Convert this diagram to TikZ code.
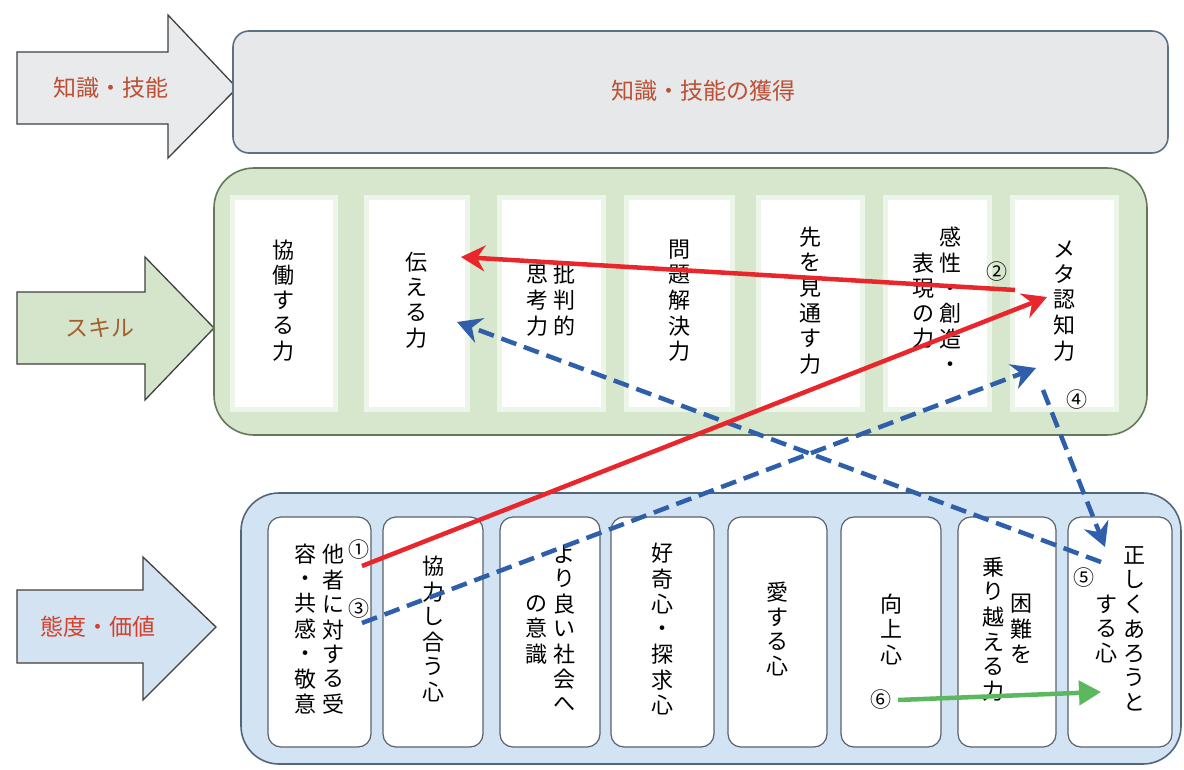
\documentclass[tikz,border=0pt]{standalone}
\usepackage{fontspec}
\newfontfamily\jp{Noto Sans CJK JP}
\usetikzlibrary{arrows.meta}
\definecolor{graybox}{HTML}{E7E8EA}
\definecolor{grayline}{HTML}{5C7088}
\definecolor{greenbox}{HTML}{D6E7CD}
\definecolor{greenline}{HTML}{66785A}
\definecolor{greenhalo}{HTML}{EDF5E8}
\definecolor{bluebox}{HTML}{D2E4F3}
\definecolor{blueline}{HTML}{536579}
\definecolor{colline}{HTML}{58626C}
\definecolor{arrowline}{HTML}{404040}
\definecolor{arrgray}{HTML}{E9EAEC}
\definecolor{arrgreen}{HTML}{D5E5CC}
\definecolor{arrblue}{HTML}{D3E3F1}
\definecolor{txtbrown}{HTML}{BC4F34}
\definecolor{txtorange}{HTML}{A4602C}
\definecolor{txtred}{HTML}{D4402C}
\definecolor{redc}{HTML}{E8262B}
\definecolor{bluec}{HTML}{2F5FAA}
\definecolor{greenc}{HTML}{5BB85F}
\newcommand\vcol[1]{\begin{tabular}[c]{@{}c@{}}#1\end{tabular}}
\begin{document}
\begin{tikzpicture}[x=1pt,y=-1pt,
  blockarrow/.style={draw=arrowline, line width=1.3pt, line join=miter},
  bigbox/.style={line width=1.6pt},
  skillcol/.style={fill=white, draw=greenhalo, line width=5pt, minimum width=#1, minimum height=212pt, inner sep=0pt, font=\jp\fontsize{22}{25}\selectfont},
  attcol/.style={fill=white, draw=colline, line width=1.2pt, rounded corners=13pt, minimum width=#1, minimum height=230pt, inner sep=0pt, font=\jp\fontsize{22}{24}\selectfont},
  label/.style={font=\jp\fontsize{23}{23}\selectfont, inner sep=0pt},
  num/.style={font=\jp\fontsize{21}{21}\selectfont, inner sep=0pt},
  redarrow/.style={draw=redc, line width=4.5pt, -{Stealth[length=24pt,width=26pt,inset=8pt]}},
  bluearrow/.style={draw=bluec, line width=4.5pt, dash pattern=on 16pt off 8pt, -{Stealth[length=24pt,width=26pt,inset=8pt]}},
  greenarrow/.style={draw=greenc, line width=4.5pt, -{Triangle[length=22pt,width=24pt]}}
]
\useasboundingbox (0,0) rectangle (1184,769);
\fill[white] (0,0) rectangle (1184,769);

% block arrows
\filldraw[blockarrow, fill=arrgray] (17,52) -- (168,52) -- (168,15) -- (237,88) -- (168,158) -- (168,124) -- (17,124) -- cycle;
\filldraw[blockarrow, fill=arrgreen] (17,292) -- (145,292) -- (145,257) -- (214,328) -- (145,400) -- (145,364) -- (17,364) -- cycle;
\filldraw[blockarrow, fill=arrblue] (17,590) -- (143,590) -- (143,557) -- (216,627) -- (143,700) -- (143,663) -- (17,663) -- cycle;
\node[label, text=txtbrown] (lk) at (111,88) {知識・技能};
\node[label, text=txtorange] (ls) at (100,328) {スキル};
\node[label, text=txtred] (la) at (98,627) {態度・価値};

% knowledge box
\filldraw[bigbox, fill=graybox, draw=grayline, rounded corners=16pt] (233,31) rectangle (1168,153);
\node[label, text=txtbrown] (kt) at (703,91) {知識・技能の獲得};

% skill box
\filldraw[bigbox, fill=greenbox, draw=greenline, rounded corners=40pt] (214,168) rectangle (1147,435);
\node[skillcol=103pt] (s1) at (283.5,303.5) {\vcol{協\\働\\す\\る\\力}};
\node[skillcol=101pt] (s2) at (416.5,303.5) {\vcol{伝\\え\\る\\力}};
\node[skillcol=104pt] (s3) at (551,303.5) {\vcol{思\\考\\力}\hspace{5pt}\vcol{批\\判\\的}};
\node[skillcol=106pt] (s4) at (679,303.5) {\vcol{問\\題\\解\\決\\力}};
\node[skillcol=104pt] (s5) at (810,303.5) {\vcol{先\\を\\見\\通\\す\\力}};
\node[skillcol=104pt] (s6) at (937,303.5) {\vcol{表\\現\\の\\力}\hspace{5pt}\vcol{感\\性\\・\\創\\造\\・}};
\node[skillcol=104pt] (s7) at (1064,303.5) {\vcol{メ\\タ\\認\\知\\力}};

% attitude box
\filldraw[bigbox, fill=bluebox, draw=blueline, rounded corners=38pt] (241,493) rectangle (1181,764);
\node[attcol=103pt] (t1) at (319.5,632) {\vcol{容\\・\\共\\感\\・\\敬\\意}\hspace{6pt}\vcol{他\\者\\に\\対\\す\\る\\受}};
\node[attcol=100pt] (t2) at (433,632) {\vcol{協\\力\\し\\合\\う\\心}};
\node[attcol=100pt] (t3) at (550,632) {\vcol{の\\意\\識}\hspace{6pt}\vcol{よ\\り\\良\\い\\社\\会\\へ}};
\node[attcol=103pt] (t4) at (662.5,632) {\vcol{好\\奇\\心\\・\\探\\求\\心}};
\node[attcol=99pt] (t5) at (777.5,632) {\vcol{愛\\す\\る\\心}};
\node[attcol=100pt] (t6) at (891,632) {\raisebox{-6pt}{\vcol{向\\上\\心}}};
\node[attcol=98pt] (t7) at (1007,632) {\vcol{乗\\り\\越\\え\\る\\力}\hspace{6pt}\vcol{困\\難\\を}};
\node[attcol=104pt] (t8) at (1120,632) {\vcol{す\\る\\心}\hspace{6pt}\vcol{正\\し\\く\\あ\\ろ\\う\\と}};

% connector end points
\coordinate (a1s) at (362,566); \coordinate (a1e) at (1047,297);
\coordinate (a2s) at (1015,290); \coordinate (a2e) at (461,257);
\coordinate (a3s) at (362,623); \coordinate (a3e) at (1036,368);
\coordinate (a4s) at (1043,390); \coordinate (a4e) at (1105,547);
\coordinate (a5s) at (1101,562); \coordinate (a5e) at (457,322);
\coordinate (a6s) at (898,700); \coordinate (a6e) at (1101,692);

% connectors
\draw[bluearrow] (a5s) -- (a5e);
\draw[bluearrow] (a3s) -- (a3e);
\draw[bluearrow] (a4s) -- (a4e);
\draw[redarrow] (a2s) -- (a2e);
\draw[redarrow] (a1s) -- (a1e);
\draw[greenarrow] (a6s) -- (a6e);

% number labels
\node[num] (n1) at (359,550) {①};
\node[num] (n2) at (997,272) {②};
\node[num] (n3) at (359,609) {③};
\node[num] (n4) at (1077,400) {④};
\node[num] (n5) at (1084,578) {⑤};
\node[num] (n6) at (881,700) {⑥};
\end{tikzpicture}
\end{document}
